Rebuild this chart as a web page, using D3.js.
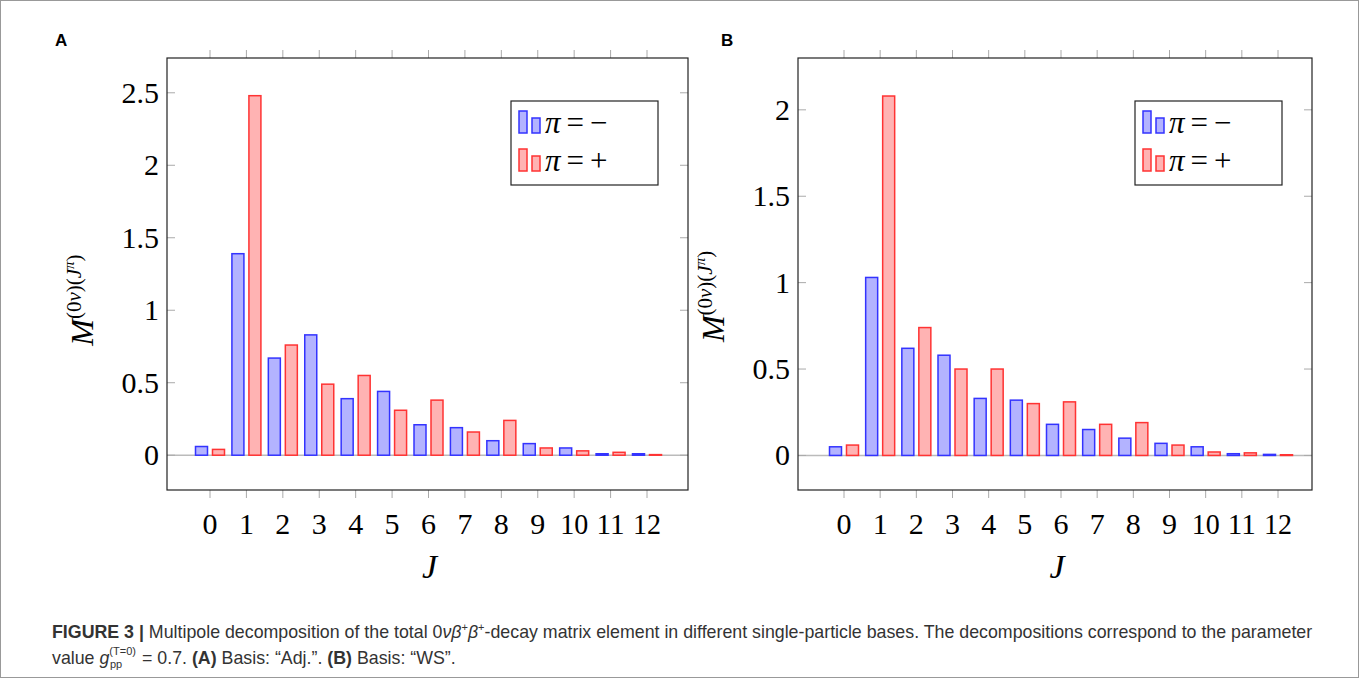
<!DOCTYPE html>
<html><head><meta charset="utf-8">
<script src="https://cdn.jsdelivr.net/npm/d3@7"></script>
<style>
body{margin:0;background:#fff}
text{font-family:"Liberation Serif","DejaVu Serif",serif}
text.cap{font-family:"Liberation Sans",Arial,sans-serif;font-size:17.8px;fill:#333}
text.lab{font-family:"Liberation Sans",Arial,sans-serif;font-weight:bold;font-size:17px}
</style></head><body>
<script>
const J = d3.range(0, 13);
// panel A: Basis "Adj."
const adjMinus = [0.06,1.39,0.67,0.83,0.39,0.44,0.21,0.19,0.10,0.08,0.05,0.01,0.01];
const adjPlus  = [0.04,2.48,0.76,0.49,0.55,0.31,0.38,0.16,0.24,0.05,0.03,0.02,0.004];
// panel B: Basis "WS"
const wsMinus = [0.05,1.03,0.62,0.58,0.33,0.32,0.18,0.15,0.10,0.07,0.05,0.01,0.006];
const wsPlus  = [0.06,2.08,0.74,0.50,0.50,0.30,0.31,0.18,0.19,0.06,0.02,0.015,0.004];
const ticksA = [0,0.5,1,1.5,2,2.5];
const ticksB = [0,0.5,1,1.5,2];

const svg = d3.select('body').append('svg').attr('width',1360).attr('height',679);
svg.append('rect').attr('x',0.5).attr('y',0.5).attr('width',1358).attr('height',677)
  .attr('fill','none').attr('stroke','#999');

function panel(o){
  const g = svg.append('g');
  const x = d3.scaleLinear().domain([0,12]).range([o.x0,o.x12]);
  const y = d3.scaleLinear().domain(o.ydom).range([490,58]);
  const bw = 12, off = 8.5;
  g.append('line').attr('x1',o.left).attr('x2',o.right).attr('y1',y(0)).attr('y2',y(0))
    .attr('stroke','#bbb').attr('stroke-width',1.5);
  o.ticks.forEach(t=>{
    g.append('line').attr('x1',o.left).attr('x2',o.left+8).attr('y1',y(t)).attr('y2',y(t)).attr('stroke','#aaa');
    g.append('line').attr('x1',o.right-8).attr('x2',o.right).attr('y1',y(t)).attr('y2',y(t)).attr('stroke','#aaa');
    g.append('text').attr('x',o.left-8).attr('y',y(t)+10).attr('text-anchor','end')
      .attr('font-size',30).text(t);
  });
  J.forEach(j=>{
    g.append('line').attr('x1',x(j)).attr('x2',x(j)).attr('y1',58).attr('y2',50).attr('stroke','#aaa');
    g.append('line').attr('x1',x(j)).attr('x2',x(j)).attr('y1',490).attr('y2',498).attr('stroke','#aaa');
    g.append('text').attr('x',x(j)).attr('y',534).attr('text-anchor','middle')
      .attr('font-size',30).attr('textLength', j>=10?28:null).attr('lengthAdjust','spacingAndGlyphs').text(j);
  });
  const series=[{v:o.minus,dx:-off,f:'#b3b3ff',s:'#3333ff'},{v:o.plus,dx:off,f:'#ffb3b3',s:'#ff3333'}];
  series.forEach(se=>{
    g.selectAll(null).data(J).enter().append('rect')
      .attr('x',j=>x(j)+se.dx-bw/2).attr('width',bw)
      .attr('y',j=>y(se.v[j])).attr('height',j=>Math.max(0.5,y(0)-y(se.v[j])))
      .attr('fill',se.f).attr('stroke',se.s).attr('stroke-width',1.5);
  });
  g.append('rect').attr('x',o.left).attr('y',58).attr('width',o.right-o.left).attr('height',432)
    .attr('fill','none').attr('stroke','#222').attr('stroke-width',1.2);
  const lx=o.right-177, ly=101;
  g.append('rect').attr('x',lx).attr('y',ly).attr('width',147).attr('height',84)
    .attr('fill','#fff').attr('stroke','#222').attr('stroke-width',1.2);
  series.forEach((se,i)=>{
    const yy = ly+10+i*38;
    g.append('rect').attr('x',lx+8).attr('y',yy).attr('width',8).attr('height',22).attr('fill',se.f).attr('stroke',se.s).attr('stroke-width',1.5);
    g.append('rect').attr('x',lx+21).attr('y',yy+7).attr('width',8).attr('height',15).attr('fill',se.f).attr('stroke',se.s).attr('stroke-width',1.5);
    const t = g.append('text').attr('x',lx+34).attr('y',yy+22).attr('font-size',31);
    t.append('tspan').attr('font-style','italic').text('π');
    t.append('tspan').attr('dx',6).text('=');
    t.append('tspan').attr('dx',6).text(i===0?'−':'+');
  });
  g.append('text').attr('x',(o.left+o.right)/2+2).attr('y',578).attr('text-anchor','middle')
    .attr('font-size',34).attr('font-style','italic').text('J');
  const yl = g.append('text').attr('transform',`translate(${o.left-74},${y(o.ymid)}) rotate(-90)`)
    .attr('text-anchor','middle').attr('font-size',32);
  yl.append('tspan').attr('font-style','italic').text('M');
  yl.append('tspan').attr('font-size',21).attr('dy',-12).text('(0');
  yl.append('tspan').attr('font-size',21).attr('font-style','italic').text('ν');
  yl.append('tspan').attr('font-size',21).text(')(');
  yl.append('tspan').attr('font-size',21).attr('font-style','italic').text('J');
  yl.append('tspan').attr('font-size',15).attr('font-style','italic').attr('dy',-7).text('π');
  yl.append('tspan').attr('font-size',21).attr('dy',7).text(')');
  g.append('text').attr('class','lab').attr('x',o.label[0]).attr('y',o.label[1]).text(o.name);
}
panel({name:'A',label:[55,46],left:167,right:688,x0:210,x12:647,ydom:[-0.24,2.74],ticks:ticksA,minus:adjMinus,plus:adjPlus,ymid:1.07});
panel({name:'B',label:[721,46],left:798,right:1312,x0:844,x12:1278,ydom:[-0.2,2.3],ticks:ticksB,minus:wsMinus,plus:wsPlus,ymid:0.92});

const c1 = svg.append('text').attr('class','cap').attr('x',52).attr('y',638);
c1.append('tspan').attr('font-weight','bold').text('FIGURE 3 | ');
c1.append('tspan').text('Multipole decomposition of the total 0');
c1.append('tspan').attr('font-style','italic').text('νβ');
c1.append('tspan').attr('font-size',11).attr('dy',-7).text('+');
c1.append('tspan').attr('font-style','italic').attr('dy',7).text('β');
c1.append('tspan').attr('font-size',11).attr('dy',-7).text('+');
c1.append('tspan').attr('dy',7).text('-decay matrix element in different single-particle bases. The decompositions correspond to the parameter');
const c2 = svg.append('text').attr('class','cap').attr('x',52).attr('y',664);
c2.append('tspan').text('value ');
c2.append('tspan').attr('font-style','italic').text('g');
c2.append('tspan').attr('font-size',11).attr('dy',-9).text('(T=0)');
c2.append('tspan').attr('font-size',11).attr('x',110).attr('dy',13).text('pp');
c2.append('tspan').attr('x',142).attr('dy',-4).text('= 0.7. ');
c2.append('tspan').attr('font-weight','bold').text('(A)');
c2.append('tspan').text(' Basis: “Adj.”. ');
c2.append('tspan').attr('font-weight','bold').text('(B)');
c2.append('tspan').text(' Basis: “WS”.');
</script></body></html>
